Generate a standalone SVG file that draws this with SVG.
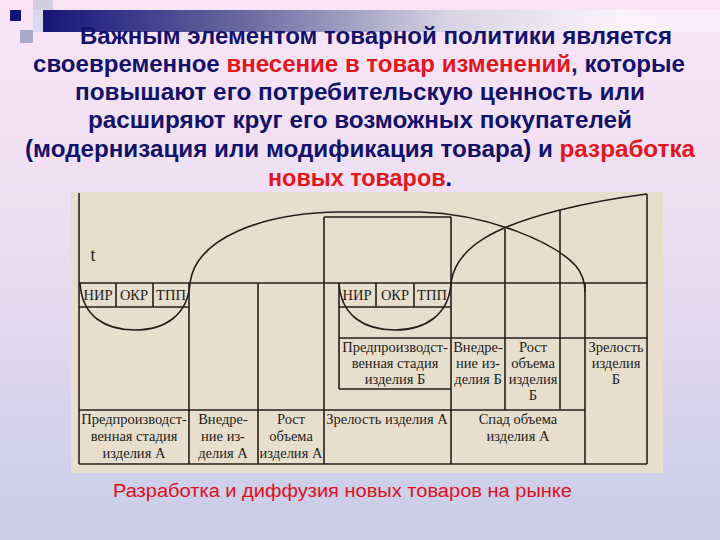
<svg xmlns="http://www.w3.org/2000/svg" width="720" height="540" viewBox="0 0 720 540">
  <defs>
    <linearGradient id="bg" x1="0" y1="0" x2="0" y2="1">
      <stop offset="0" stop-color="#f9e4f6"/>
      <stop offset="0.4" stop-color="#eedff2"/>
      <stop offset="1" stop-color="#c8cce6"/>
    </linearGradient>
    <linearGradient id="bar" x1="0" y1="0" x2="1" y2="0">
      <stop offset="0" stop-color="#15157a"/>
      <stop offset="0.3" stop-color="#6a6aa0"/>
      <stop offset="0.6" stop-color="#d8d4e4"/>
      <stop offset="0.85" stop-color="#fbf3fa"/>
      <stop offset="1" stop-color="#fbeefa"/>
    </linearGradient>
    <style>
      .h { font-family: "Liberation Sans", Arial, sans-serif; font-weight: bold; font-size: 23px; fill: #12126a; }
      .r { fill: #e3161e; }
      .ln { stroke: #251f1b; stroke-width: 1.6; fill: none; }
      .t { font-family: "Liberation Serif", "Times New Roman", serif; font-size: 14.5px; fill: #231d19; text-anchor: middle; }
      .big { font-size: 18px; }
      .sub { font-family: "Liberation Sans", Arial, sans-serif; font-size: 18px; fill: #dd1020; }
    </style>
  </defs>
  <rect width="720" height="540" fill="url(#bg)"/>
  <!-- top decoration -->
  <g id="decor">
    <rect x="43" y="10" width="677" height="22" fill="url(#bar)"/>
    <rect x="33" y="0" width="20" height="10" fill="#c8c8dc" opacity="0.8"/>
    <rect x="33" y="10" width="10" height="22" fill="#d6d6ea" opacity="0.9"/>
    <rect x="20" y="30" width="13" height="13" fill="#a8aacc"/>
    <rect x="10" y="10" width="11" height="11" fill="#14147a"/>
  </g>
  <!-- heading -->
  <g id="heading">
    <text class="h" x="80" y="44" textLength="592" lengthAdjust="spacingAndGlyphs">Важным элементом товарной политики является</text>
    <text class="h" x="33" y="72" textLength="652" lengthAdjust="spacingAndGlyphs">своевременное <tspan class="r">внесение в товар изменений</tspan>, которые</text>
    <text class="h" x="75" y="100" textLength="570" lengthAdjust="spacingAndGlyphs">повышают его потребительскую ценность или</text>
    <text class="h" x="88" y="128" textLength="544" lengthAdjust="spacingAndGlyphs">расширяют круг его возможных покупателей</text>
    <text class="h" x="25" y="157" textLength="670" lengthAdjust="spacingAndGlyphs">(модернизация или модификация товара) и <tspan class="r">разработка</tspan></text>
    <text class="h" x="268" y="186" textLength="184" lengthAdjust="spacingAndGlyphs"><tspan class="r">новых товаров</tspan>.</text>
  </g>
  <!-- scanned picture -->
  <rect id="paper" x="71" y="192" width="592" height="281" fill="#e8dece"/>
  <g id="connectors">
    <path class="ln" d="M79,193 V464 M79,283 H648 M79,307 H189 M116,283 V307 M153,283 V307 M189,283 V464 M258,283 V464 M324,217 V464 M324,217 H451 M451,217 V464 M339,283 V389 M339,307 H451 M376,283 V307 M414,283 V307 M339,389 H451 M339,338 H647 M505,229 V410 M560,210 V410 M585,283 V464 M647,194 V464 M79,410 H585 M79,464 H647"/>
    <path class="ln" d="M80,283 C82,317 106,330 135,330 C165,330 188,315 190,283 C196,238 262,213 340,212 L420,212 C490,214 555,243 576,266 Q585,277 585,292"/>
    <path class="ln" d="M339,283 C341,317 366,330 395,330 C425,330 449,315 451,283 C456,245 500,225 560,210 Q600,200 647,194"/>
  </g>
  <g id="labels">
    <text class="t big" x="93" y="261">t</text>
    <text class="t" x="98" y="300">НИР</text>
    <text class="t" x="134" y="300">ОКР</text>
    <text class="t" x="171" y="300">ТПП</text>
    <text class="t" x="357" y="300">НИР</text>
    <text class="t" x="395" y="300">ОКР</text>
    <text class="t" x="432" y="300">ТПП</text>
  </g>
  <g id="stageB">
    <text class="t" x="395" y="352">Предпроизводст-</text>
    <text class="t" x="395" y="368">венная стадия</text>
    <text class="t" x="395" y="384">изделия Б</text>
  </g>
  <g id="introB">
    <text class="t" x="478" y="352">Внедре-</text>
    <text class="t" x="478" y="368">ние из-</text>
    <text class="t" x="478" y="384">делия Б</text>
  </g>
  <g id="growthB">
    <text class="t" x="533" y="352">Рост</text>
    <text class="t" x="533" y="368">объема</text>
    <text class="t" x="533" y="384">изделия</text>
    <text class="t" x="533" y="400">Б</text>
  </g>
  <g id="maturityB">
    <text class="t" x="616" y="352">Зрелость</text>
    <text class="t" x="616" y="368">изделия</text>
    <text class="t" x="616" y="384">Б</text>
  </g>
  <g id="stageA">
    <text class="t" x="134" y="424">Предпроизводст-</text>
    <text class="t" x="134" y="441">венная стадия</text>
    <text class="t" x="134" y="458">изделия А</text>
  </g>
  <g id="introA">
    <text class="t" x="223" y="424">Внедре-</text>
    <text class="t" x="223" y="441">ние из-</text>
    <text class="t" x="223" y="458">делия А</text>
  </g>
  <g id="growthA">
    <text class="t" x="291" y="424">Рост</text>
    <text class="t" x="291" y="441">объема</text>
    <text class="t" x="291" y="458">изделия А</text>
  </g>
  <g id="maturityA">
    <text class="t" x="387" y="424">Зрелость изделия А</text>
  </g>
  <g id="declineA">
    <text class="t" x="518" y="424">Спад объема</text>
    <text class="t" x="518" y="441">изделия А</text>
  </g>
  <text class="sub" x="113" y="497" textLength="459" lengthAdjust="spacingAndGlyphs">Разработка и диффузия новых товаров на рынке</text>
</svg>
